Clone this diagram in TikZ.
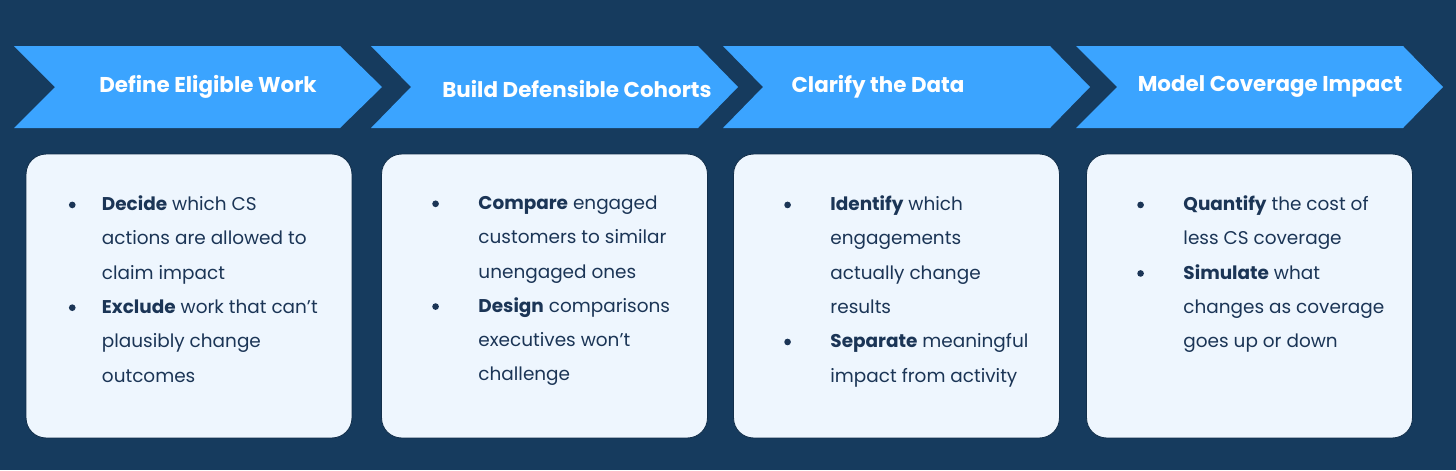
\documentclass[tikz,border=0pt]{standalone}
\usepackage{fontspec}
\setmainfont{Poppins}
\usepackage{tikz}
\usetikzlibrary{positioning}
\definecolor{pgBack}{HTML}{163B5E}
\definecolor{pgStep}{HTML}{3BA4FF}
\definecolor{pgCardFill}{HTML}{EEF6FE}
\definecolor{pgInk}{HTML}{1B3556}
\tikzset{
    pgStepArrow/.style={fill=pgStep},
    pgStepTitle/.style={
        font=\fontsize{12.2}{15}\selectfont\bfseries,
        text=white,
        inner sep=0pt
    },
    pgCard/.style={
        rectangle,
        rounded corners=0.4cm,
        fill=pgCardFill,
        draw=pgBack!80!black,
        line width=0.5pt,
        minimum width=6.52cm,
        minimum height=5.68cm
    },
    pgBody/.style={
        anchor=north west,
        align=left,
        inner sep=0pt,
        text=pgInk,
        font=\fontsize{10.5}{19.5}\selectfont
    }
}
% bullet hung left of the text, bold lead word
\newcommand{\pgDot}{\raisebox{1.4pt}{\tikz\fill[pgInk] (0,0) circle (1.9pt);}}
\newcommand{\pgItem}[2][22.5pt]{\llap{\pgDot\hspace{#1}}\textbf{#2}}

\begin{document}
\begin{tikzpicture}[x=0.02cm, y=-0.02cm]
    % Background
    \fill[pgBack] (0,0) rectangle (1456,470);
    \useasboundingbox (0,0) rectangle (1456,470);

    % Step arrows
    \fill[pgStepArrow] (14,46) -- (340,46) -- (382,87) -- (340,128) -- (14,128) -- (55,87) -- cycle;
    \fill[pgStepArrow] (371,46) -- (698,46) -- (738,87) -- (698,128) -- (371,128) -- (411,87) -- cycle;
    \fill[pgStepArrow] (723,46) -- (1050,46) -- (1090,87) -- (1050,128) -- (723,128) -- (763,87) -- cycle;
    \fill[pgStepArrow] (1076,46) -- (1403,46) -- (1443,87) -- (1403,128) -- (1076,128) -- (1117,87) -- cycle;

    % Step titles
    \node[pgStepTitle] (define) at (208,87) {Define Eligible Work};
    \node[pgStepTitle] (build) at (577,89) {Build Defensible Cohorts};
    \node[pgStepTitle] (clarify) at (878,87) {Clarify the Data};
    \node[pgStepTitle] (model) at (1270,87) {Model Coverage Impact};

    % Cards
    \node[pgCard] (card1) at (189,296) {};
    \node[pgCard] (card2) at (544.5,296) {};
    \node[pgCard] (card3) at (896.5,296) {};
    \node[pgCard] (card4) at (1249.5,296) {};

    % Card texts
    \node[pgBody] (body1) at ([shift={(76,42)}]card1.north west)
        {\pgItem[15pt]{Decide} which CS\\actions are allowed to\\claim impact\\\pgItem[15pt]{Exclude} work that can’t\\plausibly change\\outcomes};
    \node[pgBody] (body2) at ([shift={(97,42)}]card2.north west)
        {\pgItem{Compare} engaged\\customers to similar\\unengaged ones\\\pgItem{Design} comparisons\\executives won’t\\challenge};
    \node[pgBody] (body3) at ([shift={(97,42)}]card3.north west)
        {\pgItem{Identify} which\\engagements\\actually change\\results\\\pgItem{Separate} meaningful\\impact from activity};
    \node[pgBody] (body4) at ([shift={(97,42)}]card4.north west)
        {\pgItem{Quantify} the cost of\\less CS coverage\\\pgItem{Simulate} what\\changes as coverage\\goes up or down};
\end{tikzpicture}
\end{document}
